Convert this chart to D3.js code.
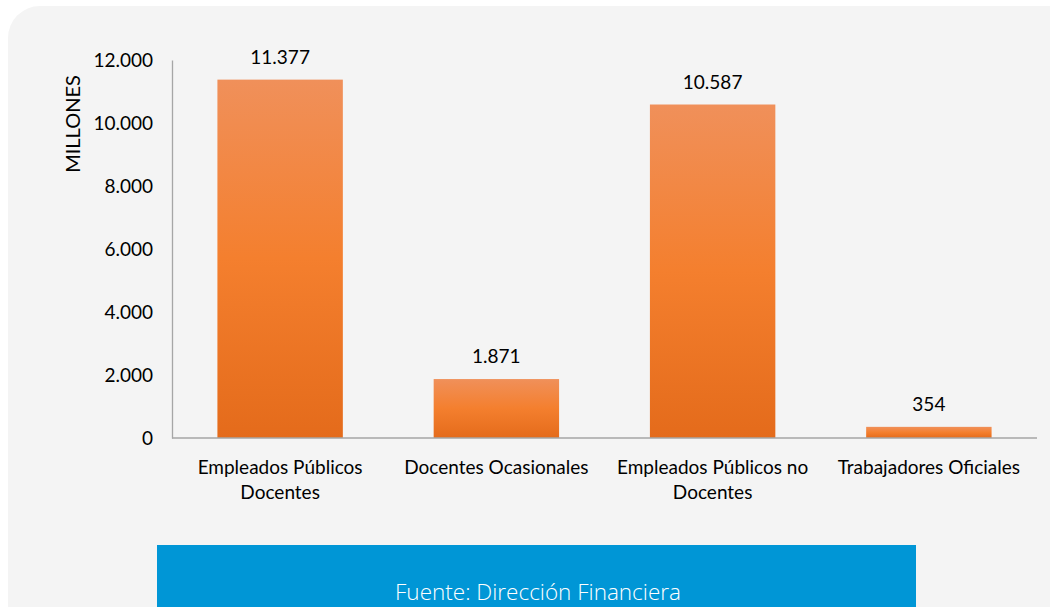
<!DOCTYPE html>
<html><head><meta charset="utf-8">
<script src="https://cdn.jsdelivr.net/npm/d3@7"></script>
<style>html,body{margin:0;padding:0;background:#fff;overflow:hidden}</style>
</head><body>
<svg id="c" width="1050" height="607"></svg>
<script>
const categories = [["Empleados Públicos","Docentes"],["Docentes Ocasionales"],["Empleados Públicos no","Docentes"],["Trabajadores Oficiales"]];
const values = [11377, 1871, 10587, 354];
const valueLabels = ["11.377","1.871","10.587","354"];
const yTicks = [0,2000,4000,6000,8000,10000,12000];
const yTickLabels = ["0","2.000","4.000","6.000","8.000","10.000","12.000"];
const yTitle = "MILLONES";
const source = "Fuente: Dirección Financiera";

const svg = d3.select("#c");
const font = "Lato, Carlito, 'Liberation Sans', sans-serif";

svg.append("rect").attr("x",8).attr("y",6).attr("width",1080).attr("height",640).attr("rx",32).attr("fill","#f4f4f4");

const defs = svg.append("defs");
const g = defs.append("linearGradient").attr("id","bg").attr("x1",0).attr("y1",0).attr("x2",0).attr("y2",1);
g.append("stop").attr("offset","0%").attr("stop-color","#f0905a");
g.append("stop").attr("offset","50%").attr("stop-color","#f47f2e");
g.append("stop").attr("offset","100%").attr("stop-color","#e46b1b");

const x = d3.scaleBand().domain(d3.range(values.length)).range([172,1037]).paddingInner(0.42).paddingOuter(0.21);
const y = d3.scaleLinear().domain([0,12000]).range([438,60]);

svg.selectAll("rect.bar").data(values).join("rect").attr("class","bar")
  .attr("x",(d,i)=>x(i)).attr("width",x.bandwidth())
  .attr("y",d=>y(d)).attr("height",d=>y(0)-y(d)).attr("fill","url(#bg)");

const yAxis = svg.append("g").attr("transform","translate(172,0)")
  .call(d3.axisLeft(y).tickValues(yTicks).tickFormat((d,i)=>yTickLabels[i]).tickSize(0).tickPadding(19));
yAxis.select(".domain").attr("stroke","#a6a6a6").attr("stroke-width",1.3);
yAxis.selectAll("text").attr("font-family",font).attr("font-size",19).attr("fill","#000");

svg.append("line").attr("x1",172).attr("x2",1037).attr("y1",y(0)).attr("y2",y(0)).attr("stroke","#a6a6a6").attr("stroke-width",1.3);

svg.selectAll("text.val").data(values).join("text").attr("class","val")
  .attr("x",(d,i)=>x(i)+x.bandwidth()/2).attr("y",d=>y(d)-16)
  .attr("text-anchor","middle").attr("font-family",font).attr("font-size",19).attr("fill","#000")
  .text((d,i)=>valueLabels[i]);

categories.forEach((lines,i)=>{
  const t = svg.append("text").attr("text-anchor","middle").attr("font-family",font).attr("font-size",19).attr("fill","#000");
  lines.forEach((l,j)=>t.append("tspan").attr("x",x(i)+x.bandwidth()/2).attr("y",474+j*25).text(l));
});

svg.append("text").attr("transform","translate(80,124) rotate(-90)").attr("text-anchor","middle")
  .attr("font-family",font).attr("font-size",20).attr("fill","#000").text(yTitle);

svg.append("rect").attr("x",157).attr("y",545).attr("width",759).attr("height",70).attr("fill","#0096d6");
svg.append("text").attr("x",538).attr("y",600).attr("text-anchor","middle")
  .attr("font-family","'Open Sans', sans-serif").attr("font-weight",300).attr("font-size",22.5).attr("fill","#fff").text(source);
</script>
</body></html>
